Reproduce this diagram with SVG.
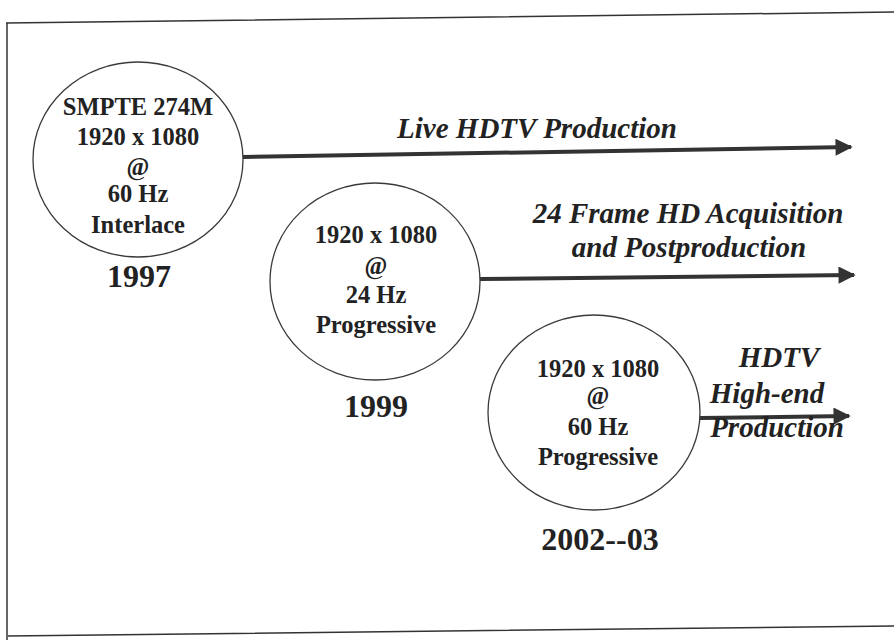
<svg xmlns="http://www.w3.org/2000/svg" width="894" height="640" viewBox="0 0 894 640">
<defs>
<style>
.node{fill:#fff;stroke:#3a3a3a;stroke-width:1.3}
.t{font-family:"Liberation Serif",serif;font-weight:bold;font-size:24.5px;fill:#222;text-anchor:middle}
.yr{font-family:"Liberation Serif",serif;font-weight:bold;font-size:32px;fill:#222;text-anchor:middle}
.lb{font-family:"Liberation Serif",serif;font-weight:bold;font-style:italic;font-size:29px;fill:#222;text-anchor:middle}
.ar{stroke:#333;stroke-width:4;fill:none;marker-end:url(#ah)}
.fr{stroke:#333;stroke-width:1.5;fill:none}
</style>
<marker id="ah" viewBox="0 0 10 10" refX="9" refY="5" markerWidth="6" markerHeight="4.3" markerUnits="strokeWidth" orient="auto">
<path d="M0,0 L10,5 L0,10 z" fill="#333"/>
</marker>
</defs>
<rect width="894" height="640" fill="#fff"/>
<path class="fr" d="M6,23 L894,12 M7,23 L7,640 M8,636 L894,626"/>
<g id="connectors">
<line class="ar" x1="243" y1="157" x2="851" y2="147"/>
<line class="ar" x1="480" y1="279" x2="854" y2="275"/>
<line class="ar" x1="700" y1="418" x2="849" y2="416"/>
</g>
<g id="n1997">
<ellipse class="node" cx="138" cy="159.5" rx="105" ry="97.5"/>
<text class="t" x="138" y="115">SMPTE 274M</text>
<text class="t" x="138" y="145">1920 x 1080</text>
<text class="t" x="138" y="175">@</text>
<text class="t" x="138" y="202">60 Hz</text>
<text class="t" x="138" y="233">Interlace</text>
<text class="yr" x="139" y="287">1997</text>
</g>
<g id="n1999">
<ellipse class="node" cx="375" cy="281.5" rx="105" ry="98.5"/>
<text class="t" x="376" y="243">1920 x 1080</text>
<text class="t" x="376" y="274">@</text>
<text class="t" x="376" y="303">24 Hz</text>
<text class="t" x="376" y="333">Progressive</text>
<text class="yr" x="376" y="417">1999</text>
</g>
<g id="n2002">
<ellipse class="node" cx="594" cy="412.5" rx="106" ry="97.5"/>
<text class="t" x="598" y="377">1920 x 1080</text>
<text class="t" x="598" y="404">@</text>
<text class="t" x="598" y="435">60 Hz</text>
<text class="t" x="598" y="465">Progressive</text>
<text class="yr" x="600" y="550">2002--03</text>
</g>
<g id="labels">
<text class="lb" x="537" y="138">Live HDTV Production</text>
<text class="lb" x="688" y="223">24 Frame HD Acquisition</text>
<text class="lb" x="689" y="257">and Postproduction</text>
<text class="lb" x="779" y="367">HDTV</text>
<text class="lb" x="767" y="403">High-end</text>
<text class="lb" x="777" y="437">Production</text>
</g>
</svg>
